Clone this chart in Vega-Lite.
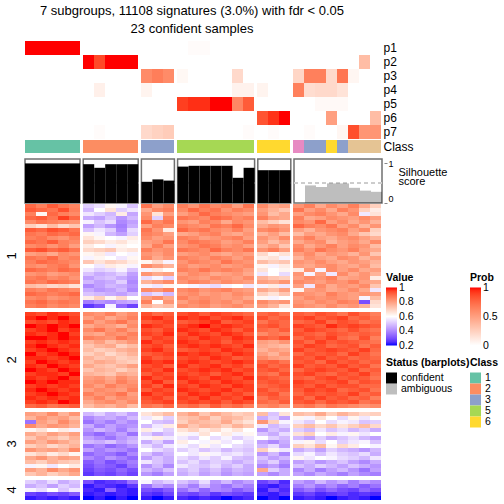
{
"$schema": "https://vega.github.io/schema/vega-lite/v6.json",
"padding": {"left": 6, "top": 5, "right": 0, "bottom": 0},
"title": {"text": ["7 subgroups, 11108 signatures (3.0%) with fdr < 0.05", "23 confident samples"], "fontSize": 13, "fontWeight": "normal", "lineHeight": 18, "anchor": "start", "align": "center", "dx": 186, "offset": 5, "color": "black"},
"datasets": {
"samples": [
{"c":1,"g":"1","cls":"1","st":"confident","sil":0.99,"p1":1,"p2":0,"p3":0,"p4":0,"p5":0,"p6":0,"p7":0},
{"c":2,"g":"1","cls":"1","st":"confident","sil":0.99,"p1":1,"p2":0,"p3":0,"p4":0,"p5":0,"p6":0,"p7":0},
{"c":3,"g":"1","cls":"1","st":"confident","sil":0.99,"p1":1,"p2":0,"p3":0,"p4":0,"p5":0,"p6":0,"p7":0},
{"c":4,"g":"1","cls":"1","st":"confident","sil":0.99,"p1":1,"p2":0,"p3":0,"p4":0,"p5":0,"p6":0,"p7":0},
{"c":5,"g":"1","cls":"1","st":"confident","sil":0.99,"p1":1,"p2":0,"p3":0,"p4":0,"p5":0,"p6":0,"p7":0},
{"c":6,"g":"2","cls":"2","st":"confident","sil":0.97,"p1":0,"p2":1,"p3":0,"p4":0,"p5":0,"p6":0,"p7":0},
{"c":7,"g":"2","cls":"2","st":"confident","sil":0.88,"p1":0,"p2":0.87,"p3":0,"p4":0.08,"p5":0,"p6":0,"p7":0.02},
{"c":8,"g":"2","cls":"2","st":"confident","sil":0.97,"p1":0,"p2":1,"p3":0,"p4":0,"p5":0,"p6":0,"p7":0},
{"c":9,"g":"2","cls":"2","st":"confident","sil":0.97,"p1":0,"p2":1,"p3":0,"p4":0,"p5":0,"p6":0,"p7":0},
{"c":10,"g":"2","cls":"2","st":"confident","sil":0.97,"p1":0,"p2":1,"p3":0,"p4":0,"p5":0,"p6":0,"p7":0},
{"c":11,"g":"3","cls":"3","st":"confident","sil":0.53,"p1":0,"p2":0,"p3":0.6,"p4":0.06,"p5":0,"p6":0,"p7":0.2},
{"c":12,"g":"3","cls":"3","st":"confident","sil":0.59,"p1":0,"p2":0,"p3":0.66,"p4":0,"p5":0,"p6":0,"p7":0.24},
{"c":13,"g":"3","cls":"3","st":"confident","sil":0.56,"p1":0,"p2":0,"p3":0.6,"p4":0,"p5":0,"p6":0,"p7":0.27},
{"c":14,"g":"5","cls":"5","st":"confident","sil":0.91,"p1":0,"p2":0,"p3":0.04,"p4":0,"p5":0.9,"p6":0,"p7":0},
{"c":15,"g":"5","cls":"5","st":"confident","sil":0.93,"p1":0.02,"p2":0,"p3":0,"p4":0,"p5":0.94,"p6":0,"p7":0},
{"c":16,"g":"5","cls":"5","st":"confident","sil":0.93,"p1":0.02,"p2":0,"p3":0,"p4":0,"p5":0.94,"p6":0,"p7":0},
{"c":17,"g":"5","cls":"5","st":"confident","sil":0.93,"p1":0,"p2":0,"p3":0,"p4":0,"p5":1,"p6":0,"p7":0},
{"c":18,"g":"5","cls":"5","st":"confident","sil":0.93,"p1":0,"p2":0,"p3":0,"p4":0,"p5":1,"p6":0,"p7":0},
{"c":19,"g":"5","cls":"5","st":"confident","sil":0.63,"p1":0,"p2":0,"p3":0.2,"p4":0.07,"p5":0.62,"p6":0,"p7":0},
{"c":20,"g":"5","cls":"5","st":"confident","sil":0.88,"p1":0,"p2":0,"p3":0,"p4":0.07,"p5":0.8,"p6":0,"p7":0.02},
{"c":21,"g":"6","cls":"6","st":"confident","sil":0.82,"p1":0,"p2":0,"p3":0,"p4":0.06,"p5":0,"p6":0.83,"p7":0},
{"c":22,"g":"6","cls":"6","st":"confident","sil":0.82,"p1":0,"p2":0,"p3":0,"p4":0,"p5":0,"p6":0.93,"p7":0.02},
{"c":23,"g":"6","cls":"6","st":"confident","sil":0.82,"p1":0,"p2":0,"p3":0,"p4":0,"p5":0,"p6":1,"p7":0},
{"c":24,"g":"9","cls":"4","st":"ambiguous","sil":0,"p1":0,"p2":0,"p3":0.22,"p4":0.65,"p5":0,"p6":0,"p7":0},
{"c":25,"g":"9","cls":"3","st":"ambiguous","sil":0.44,"p1":0,"p2":0,"p3":0.65,"p4":0.18,"p5":0,"p6":0,"p7":0.02},
{"c":26,"g":"9","cls":"3","st":"ambiguous","sil":0.40,"p1":0,"p2":0,"p3":0.65,"p4":0.2,"p5":0.03,"p6":0,"p7":0},
{"c":27,"g":"9","cls":"6","st":"ambiguous","sil":0.49,"p1":0,"p2":0,"p3":0.2,"p4":0.2,"p5":0.03,"p6":0.5,"p7":0},
{"c":28,"g":"9","cls":"3","st":"ambiguous","sil":0.49,"p1":0,"p2":0,"p3":0.7,"p4":0.15,"p5":0.03,"p6":0,"p7":0.05},
{"c":29,"g":"9","cls":"7","st":"ambiguous","sil":0.38,"p1":0,"p2":0,"p3":0.05,"p4":0,"p5":0,"p6":0,"p7":0.85},
{"c":30,"g":"9","cls":"7","st":"ambiguous","sil":0.31,"p1":0,"p2":0.35,"p3":0,"p4":0,"p5":0,"p6":0,"p7":0.55},
{"c":31,"g":"9","cls":"7","st":"ambiguous","sil":0.28,"p1":0,"p2":0,"p3":0,"p4":0,"p5":0,"p6":0.35,"p7":0.55}
],
"heat": [
{"s":"1","r":1,"v":[90,86,92,88,85,52,55,62,58,50,88,80,84,86,82,88,84,86,80,88,84,78,80,82,86,78,84,80,86,78,70]},
{"s":"1","r":2,"v":[92,90,88,94,86,48,60,66,52,56,78,84,86,84,90,86,88,82,86,84,80,76,72,88,80,84,78,86,82,70,64]},
{"s":"1","r":3,"v":[86,62,90,86,84,56,52,48,64,45,82,66,80,80,84,90,86,84,82,80,82,74,78,80,84,86,82,78,84,56,66]},
{"s":"1","r":4,"v":[90,92,88,96,90,46,44,50,42,48,84,52,86,88,86,84,90,88,84,86,86,80,78,86,78,80,84,82,80,84,80]},
{"s":"1","r":5,"v":[84,88,86,84,82,58,50,54,40,44,90,84,88,82,80,86,84,78,84,82,74,70,66,84,82,90,80,84,78,82,76]},
{"s":"1","r":6,"v":[70,66,74,68,72,44,48,42,38,46,80,86,84,86,84,82,88,86,90,84,78,82,80,90,86,84,88,80,84,76,82]},
{"s":"1","r":7,"v":[92,90,94,92,88,50,56,52,40,54,88,82,64,90,86,88,84,82,86,80,84,86,82,80,76,82,84,86,80,84,70]},
{"s":"1","r":8,"v":[88,86,90,88,90,62,58,48,44,52,86,84,80,78,80,84,86,80,78,82,76,80,74,74,80,78,82,84,78,72,68]},
{"s":"1","r":9,"v":[86,88,84,82,86,66,62,60,58,64,84,80,82,86,84,80,82,84,86,80,82,78,84,82,86,80,78,82,84,80,76]},
{"s":"1","r":10,"v":[90,88,92,86,84,70,68,64,66,62,80,82,88,84,88,86,84,80,82,86,80,74,78,78,82,84,76,80,82,78,84]},
{"s":"1","r":11,"v":[84,86,82,86,80,64,60,58,62,60,78,86,80,82,84,88,86,82,84,80,76,80,72,84,78,82,86,80,84,82,74]},
{"s":"1","r":12,"v":[92,94,90,92,88,68,70,72,64,66,86,82,84,88,86,84,90,86,84,88,82,86,80,86,82,88,84,82,86,80,78]},
{"s":"1","r":13,"v":[80,82,78,84,82,62,64,56,60,58,82,80,84,80,82,84,80,78,82,80,68,62,66,80,84,78,82,80,76,82,72]},
{"s":"1","r":14,"v":[88,86,90,84,86,58,62,60,56,62,84,78,82,86,84,82,86,84,80,84,64,66,58,76,82,80,78,84,82,76,80]},
{"s":"1","r":15,"v":[86,90,88,86,84,72,66,70,68,64,62,68,58,82,86,84,82,88,84,82,74,70,72,82,80,84,80,78,82,80,76]},
{"s":"1","r":16,"v":[84,82,86,88,82,60,56,64,62,58,84,80,76,84,80,82,84,80,82,84,62,58,64,80,78,82,84,80,78,82,74]},
{"s":"1","r":17,"v":[90,88,86,90,88,56,52,54,58,50,58,64,60,86,84,88,84,86,84,80,66,60,62,64,82,58,84,80,84,78,80]},
{"s":"1","r":18,"v":[82,84,80,82,84,50,46,48,52,44,82,78,80,80,84,82,78,80,82,78,56,60,54,82,58,80,56,84,78,82,76]},
{"s":"1","r":19,"v":[86,88,84,86,82,44,48,50,46,42,54,58,52,84,82,80,84,82,80,84,76,72,70,80,84,82,86,78,80,82,64]},
{"s":"1","r":20,"v":[88,86,90,88,86,48,44,46,52,40,76,80,84,82,86,84,80,84,82,80,80,78,82,84,82,80,84,82,86,80,78]},
{"s":"1","r":21,"v":[74,72,68,70,66,40,44,48,46,42,58,56,62,60,58,56,54,58,60,56,58,64,56,80,56,84,78,82,80,84,72]},
{"s":"1","r":22,"v":[86,84,88,86,84,46,42,44,48,40,84,82,86,84,86,82,84,86,82,80,78,74,80,62,80,82,78,80,84,78,56]},
{"s":"1","r":23,"v":[90,88,86,88,90,50,48,46,44,48,50,54,48,82,84,80,82,80,84,82,70,66,72,84,82,80,86,82,80,82,80]},
{"s":"1","r":24,"v":[84,86,82,84,86,64,70,62,68,60,80,84,78,86,82,84,82,80,82,78,62,58,60,80,84,82,84,82,80,58,74]},
{"s":"1","r":25,"v":[88,90,86,88,86,38,42,40,44,46,86,60,82,80,84,86,82,84,80,84,84,80,82,82,80,84,82,86,84,30,68]},
{"s":"1","r":26,"v":[86,88,84,86,84,26,30,58,34,28,76,72,74,84,82,84,80,82,84,80,80,76,66,84,82,80,84,80,82,76,66]},
{"s":"2","r":1,"v":[96,94,98,96,94,84,82,86,80,84,94,90,92,94,96,92,96,94,92,90,90,92,88,92,90,94,92,88,94,90,86]},
{"s":"2","r":2,"v":[98,100,98,100,96,80,84,78,82,86,96,98,94,98,96,98,94,96,98,94,94,90,92,94,96,92,94,96,90,92,88]},
{"s":"2","r":3,"v":[94,96,94,98,96,86,80,84,88,82,92,94,96,92,94,96,98,92,94,96,88,92,90,90,92,96,90,94,92,88,90]},
{"s":"2","r":4,"v":[100,98,100,98,100,78,82,80,76,84,98,96,94,96,98,100,96,98,96,94,92,94,90,96,94,92,98,94,96,94,92]},
{"s":"2","r":5,"v":[96,98,100,96,98,84,88,82,86,80,94,92,96,98,96,94,98,96,92,96,90,88,92,92,96,94,92,90,94,90,88]},
{"s":"2","r":6,"v":[98,96,98,100,96,80,78,84,82,86,96,94,98,94,98,96,94,98,96,92,84,88,86,94,92,90,94,92,90,92,90]},
{"s":"2","r":7,"v":[100,100,98,100,98,86,84,82,88,84,92,96,94,96,94,98,96,94,98,96,92,90,94,90,94,92,96,90,88,94,86]},
{"s":"2","r":8,"v":[96,98,96,98,96,76,80,74,78,82,98,94,96,98,96,94,96,92,96,94,80,78,82,94,90,96,92,94,92,90,88]},
{"s":"2","r":9,"v":[98,100,98,96,98,72,76,78,70,74,94,96,92,96,98,96,98,96,94,98,78,76,74,92,96,94,90,92,94,88,92]},
{"s":"2","r":10,"v":[96,98,100,98,96,74,70,72,76,78,96,98,94,92,94,96,94,98,96,94,76,80,78,96,92,94,96,94,92,96,90]},
{"s":"2","r":11,"v":[100,96,98,100,98,70,74,68,72,76,92,94,96,98,96,98,96,94,98,96,80,76,82,90,94,92,94,90,96,92,88]},
{"s":"2","r":12,"v":[98,98,96,98,100,76,72,74,70,72,96,92,94,94,96,94,98,96,92,94,84,80,78,94,92,96,92,94,90,92,90]},
{"s":"2","r":13,"v":[96,100,98,96,98,74,78,76,72,70,98,96,98,96,98,96,94,96,98,96,90,92,88,92,94,90,96,92,94,90,92]},
{"s":"2","r":14,"v":[98,96,100,98,96,78,74,72,76,80,94,96,92,98,94,96,98,94,96,92,94,90,92,96,92,94,92,96,92,94,88]},
{"s":"2","r":15,"v":[100,98,96,100,98,72,76,74,70,74,96,94,98,94,96,98,96,98,94,96,92,94,90,90,94,96,94,92,96,90,92]},
{"s":"2","r":16,"v":[96,98,98,96,100,76,74,72,78,76,92,96,94,96,94,96,92,96,98,94,90,88,94,94,96,92,90,94,92,96,90]},
{"s":"2","r":17,"v":[98,96,98,100,96,80,82,78,84,80,98,94,96,98,96,94,98,96,94,98,94,92,90,92,90,94,96,92,94,92,88]},
{"s":"2","r":18,"v":[100,98,100,98,98,82,84,80,86,82,94,98,92,94,98,96,94,98,96,94,92,94,92,96,94,92,94,96,90,94,92]},
{"s":"2","r":19,"v":[96,98,96,98,96,84,80,86,82,84,96,92,98,96,94,98,96,94,98,96,90,92,94,94,92,96,92,94,94,90,90]},
{"s":"2","r":20,"v":[98,100,98,96,98,80,84,82,80,86,92,96,94,98,96,94,96,98,94,96,94,90,92,92,96,94,96,90,92,94,88]},
{"s":"2","r":21,"v":[96,98,100,98,96,86,82,84,88,80,98,94,96,94,98,96,98,94,96,92,92,94,88,90,94,92,94,92,96,90,92]},
{"s":"2","r":22,"v":[98,96,98,96,98,82,86,80,84,82,94,96,92,96,94,98,94,96,94,98,88,92,90,94,90,96,92,94,90,92,86]},
{"s":"2","r":23,"v":[96,98,96,100,98,78,82,84,80,84,92,94,96,94,96,94,96,92,96,94,90,88,92,92,94,90,94,92,94,88,90]},
{"s":"2","r":24,"v":[90,92,88,90,92,74,78,76,80,74,88,86,90,88,90,86,92,88,90,86,84,86,82,86,88,84,88,86,84,82,84]},
{"s":"3","r":1,"v":[80,78,84,76,82,48,52,46,50,44,66,70,74,76,80,72,78,74,70,72,74,50,66,74,72,78,70,76,72,68,70]},
{"s":"3","r":2,"v":[76,82,78,80,74,40,44,46,42,48,56,62,52,72,74,78,70,76,74,70,46,52,44,62,58,66,60,54,62,56,60]},
{"s":"3","r":3,"v":[36,80,76,84,78,36,42,38,44,40,60,50,48,70,76,74,72,78,70,66,82,70,58,56,52,60,54,58,56,50,52]},
{"s":"3","r":4,"v":[84,78,82,80,76,46,38,44,40,42,48,56,64,78,72,76,74,70,76,72,56,48,52,70,74,68,72,66,70,74,68]},
{"s":"3","r":5,"v":[62,66,60,64,58,42,48,44,38,46,64,58,52,66,70,64,68,62,66,60,42,50,46,52,48,56,50,54,48,52,46]},
{"s":"3","r":6,"v":[78,74,80,76,80,38,34,40,44,36,52,46,50,62,58,66,60,64,58,62,50,46,54,66,70,60,64,58,62,56,60]},
{"s":"3","r":7,"v":[72,78,74,70,76,44,40,36,42,46,58,64,56,56,52,60,54,58,52,56,60,52,48,48,44,52,46,50,54,48,44]},
{"s":"3","r":8,"v":[80,76,82,78,74,48,46,50,44,48,46,52,44,64,60,58,62,56,60,54,44,40,46,58,62,54,60,52,56,58,50]},
{"s":"3","r":9,"v":[70,74,68,72,76,36,40,34,38,42,54,48,56,58,54,62,56,60,54,52,48,54,44,70,66,74,62,68,64,60,58]},
{"s":"3","r":10,"v":[82,78,80,76,84,44,38,42,40,36,60,54,50,52,56,50,54,48,52,50,70,62,56,46,50,44,52,48,46,42,48]},
{"s":"3","r":11,"v":[66,70,64,68,62,34,38,36,32,40,50,44,48,60,56,62,58,54,56,52,42,48,40,54,58,50,56,52,50,54,46]},
{"s":"3","r":12,"v":[78,82,76,80,78,40,36,42,38,34,44,50,46,54,50,56,52,58,50,48,50,44,48,62,56,60,58,54,52,48,56]},
{"s":"3","r":13,"v":[74,70,76,72,70,32,36,30,34,38,56,50,46,50,54,48,52,50,46,50,46,52,42,44,48,42,46,50,44,40,46]},
{"s":"3","r":14,"v":[58,62,56,60,64,30,34,32,28,36,42,48,40,56,52,50,54,48,52,46,40,44,38,50,46,52,48,44,50,46,42]},
{"s":"3","r":15,"v":[80,76,84,78,82,28,32,30,34,30,48,44,50,48,52,46,50,44,48,46,78,52,46,40,46,38,44,48,42,36,44]},
{"s":"3","r":16,"v":[72,76,70,74,78,26,30,28,32,28,42,38,44,46,50,44,48,42,46,44,44,40,46,44,40,46,42,38,44,40,38]},
{"s":"4","r":1,"v":[52,48,54,46,50,30,24,26,28,36,58,48,52,50,46,54,42,48,40,44,28,32,24,44,40,48,42,46,38,44,40]},
{"s":"4","r":2,"v":[46,50,44,52,48,22,26,24,22,26,36,44,40,44,38,48,40,36,42,38,24,22,26,38,42,36,40,34,38,32,36]},
{"s":"4","r":3,"v":[58,54,60,50,56,24,22,34,24,22,30,28,32,36,42,34,40,38,32,36,22,30,24,32,36,30,34,30,28,34,30]},
{"s":"4","r":4,"v":[28,26,30,28,32,22,24,22,24,22,26,24,28,30,28,32,26,30,28,26,24,22,26,26,28,24,26,28,24,26,24]},
{"s":"4","r":5,"v":[22,24,22,24,22,20,22,20,22,20,22,20,22,24,22,24,22,20,22,24,20,22,20,22,24,22,20,22,24,22,20]}
]
},
"vconcat": [
{
"vconcat": [
{
"data": {"name": "samples"},
"transform": [{"fold": ["p1","p2","p3","p4","p5","p6","p7"], "as": ["key","prob"]}],
"facet": {"column": {"field": "g", "type": "nominal", "title": null, "header": {"labels": false, "title": null}}},
"spacing": {"column": 3},
"align": "each",
"resolve": {"scale": {"x": "independent"}},
"spec": {
"width": {"step": 11}, "height": 98,
"mark": "rect",
"encoding": {
"x": {"field": "c", "type": "ordinal", "axis": null},
"y": {"field": "key", "type": "nominal", "scale": {"domain": ["p1","p2","p3","p4","p5","p6","p7"]}, "axis": {"orient": "right", "title": null, "ticks": false, "domain": false, "labelFontSize": 12, "labelPadding": 2, "labelColor": "black"}},
"color": {"field": "prob", "type": "quantitative", "scale": {"domain": [0,1], "range": ["#ffffff","#ff0000"], "interpolate": "lab"}, "legend": {"title": "Prob", "orient": "none", "legendX": 445, "legendY": 232, "direction": "vertical", "gradientLength": 58, "gradientThickness": 11, "values": [0,0.5,1], "format": "~g", "labelOverlap": false, "labelBaseline": "middle", "encode": {"labels": {"update": {"baseline": {"value": "middle"}}}}}}
}
}
},
{
"data": {"name": "samples"},
"facet": {"column": {"field": "g", "type": "nominal", "title": null, "header": {"labels": false, "title": null}}},
"spacing": {"column": 3},
"align": "each",
"resolve": {"scale": {"x": "independent"}},
"spec": {
"width": {"step": 11}, "height": 13,
"layer": [
{"mark": {"type": "rule", "strokeWidth": 11, "strokeCap": "butt"},
"encoding": {
"x": {"field": "c", "type": "ordinal", "axis": null},
"stroke": {"field": "cls", "type": "nominal", "scale": {"domain": ["1","2","3","4","5","6","7"], "range": ["#66c2a5","#fc8d62","#8da0cb","#e78ac3","#a6d854","#ffd92f","#e5c494"]}, "legend": {"title": "Class", "orient": "none", "legendX": 445, "legendY": 317, "values": ["1","2","3","5","6"], "symbolType": "square", "symbolSize": 121, "symbolStrokeWidth": 0, "rowPadding": 0, "encode": {"symbols": {"update": {"fill": {"scale": "stroke", "field": "value"}, "strokeWidth": {"value": 0}}}}}}
}},
{"mark": {"type": "point", "opacity": 0},
"encoding": {
"x": {"field": "c", "type": "ordinal", "axis": null},
"y": {"datum": "Class", "type": "nominal", "axis": {"orient": "right", "title": null, "ticks": false, "domain": false, "labelFontSize": 12, "labelPadding": 2, "labelColor": "black"}}}}
]
}
},
{
"data": {"name": "samples"},
"facet": {"column": {"field": "g", "type": "nominal", "title": null, "header": {"labels": false, "title": null}}},
"spacing": {"column": -0.8},
"align": "each",
"resolve": {"scale": {"x": "independent"}},
"spec": {
"width": {"step": 11}, "height": 44,
"view": {"stroke": "#707070", "strokeWidth": 1.5},
"layer": [
{"mark": {"type": "rule", "strokeDash": [4,3], "color": "#cccccc"}, "encoding": {"y": {"datum": 0.5}}},
{"mark": {"type": "bar", "color": "#000000"},
"encoding": {
"x": {"field": "c", "type": "ordinal", "axis": null},
"y": {"field": "sil", "type": "quantitative", "scale": {"domain": [0,1.1], "nice": false}, "axis": {"orient": "right", "values": [0,0.5,1], "format": "~g", "labelFlush": true, "tickSize": 3, "labelFontSize": 9, "labelPadding": 1, "domain": false, "labelColor": "black", "title": ["Silhouette","score"], "titleAngle": 0, "titleFontSize": 11, "titleFontWeight": "normal", "titleAlign": "left", "titleX": 14, "titleY": 18, "titleLineHeight": 9}},
"opacity": {"field": "st", "type": "ordinal", "scale": {"domain": ["confident","ambiguous"], "range": [1,0.255]}, "legend": {"title": "Status (barplots)", "orient": "none", "legendX": 361, "legendY": 317, "symbolType": "square", "symbolSize": 121, "symbolStrokeWidth": 0, "symbolFillColor": "#000000", "rowPadding": 0}}
}}
]
}
}
],
"spacing": -5
},
{
"data": {"name": "heat"},
"transform": [
{"flatten": ["v"]},
{"window": [{"op": "row_number", "as": "c"}], "groupby": ["s","r"]},
{"lookup": "c", "from": {"data": {"name": "samples"}, "key": "c", "fields": ["g"]}}
],
"facet": {
"row": {"field": "s", "type": "ordinal", "title": null, "header": {"labelAngle": -90, "labelFontSize": 13, "labelPadding": 0, "labelColor": "black", "title": null}},
"column": {"field": "g", "type": "nominal", "title": null, "header": {"labels": false, "title": null}}
},
"spacing": {"row": 4, "column": 3},
"align": "each",
"resolve": {"scale": {"x": "independent", "y": "independent"}},
"spec": {
"width": {"step": 11}, "height": {"step": 4},
"mark": "rect",
"encoding": {
"x": {"field": "c", "type": "ordinal", "axis": null},
"y": {"field": "r", "type": "ordinal", "axis": null},
"fill": {"field": "v", "type": "quantitative", "scale": {"domain": [20,60,100], "range": ["#0000ff","#ffffff","#ff0000"], "interpolate": "lab"}, "legend": {"title": "Value", "orient": "none", "legendX": 361, "legendY": 232, "direction": "vertical", "gradientLength": 58, "gradientThickness": 11, "values": [20,40,60,80,100], "labelExpr": "datum.value/100", "labelOverlap": false, "labelBaseline": "middle", "encode": {"labels": {"update": {"baseline": {"value": "middle"}}}}}}
}
}
}
],
"spacing": -3,
"config": {
"font": "Liberation Sans",
"view": {"stroke": null},
"scale": {"bandPaddingInner": 0, "bandPaddingOuter": 0},
"legend": {"titleFontSize": 10.5, "titleFontWeight": "bold", "titleColor": "black", "labelColor": "black", "labelFontSize": 10.5, "titlePadding": 4},
"axis": {"labelColor": "black", "titleColor": "black"}
}
}
